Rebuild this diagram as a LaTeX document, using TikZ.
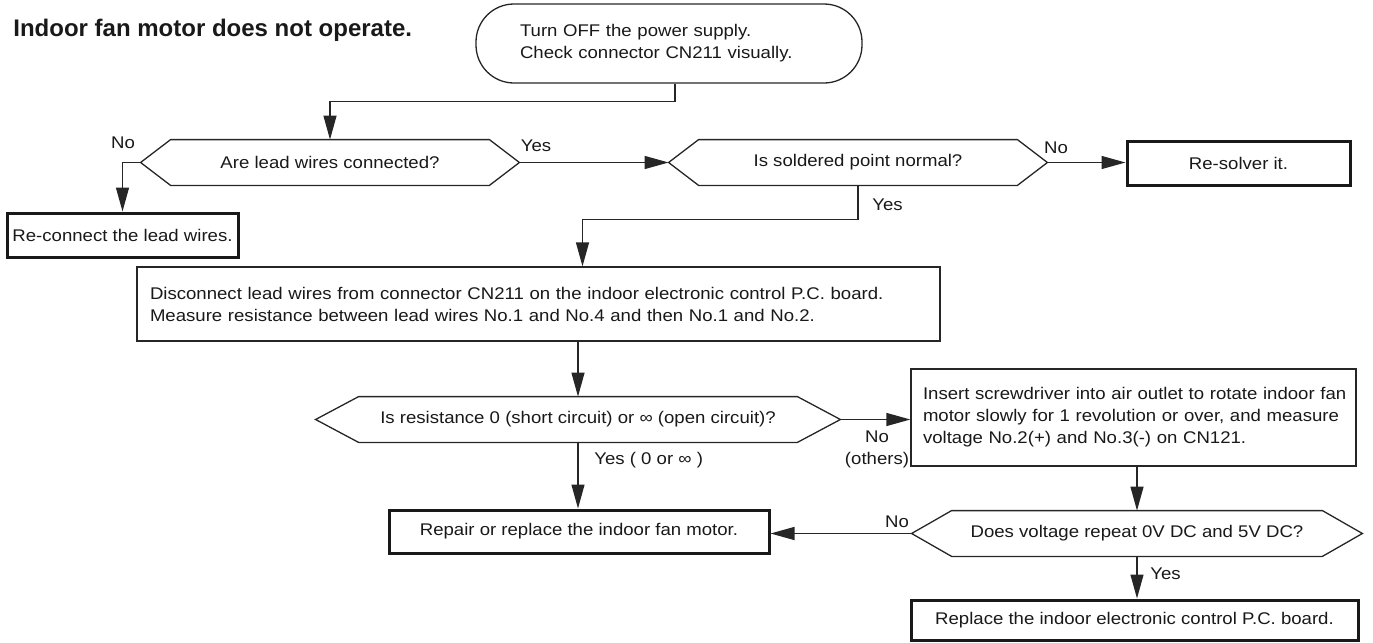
\documentclass[tikz,border=0pt]{standalone}
\usepackage{fontspec}
\setmainfont{Liberation Sans}[FakeStretch=1.1]
\newfontfamily\titlefont{Liberation Sans}
\usetikzlibrary{arrows.meta,calc}
\newcommand{\myhex}[2]{\draw[ln] (#1.west) -- ([xshift=#2]#1.north west) -- ([xshift=-#2]#1.north east) -- (#1.east) -- ([xshift=-#2]#1.south east) -- ([xshift=#2]#1.south west) -- cycle;}
\begin{document}
\begin{tikzpicture}[x=0.5pt,y=-0.5pt,
  every node/.style={font=\fontsize{8.45pt}{11pt}\selectfont, text=black!90},
  ln/.style={draw=black!85, line width=0.65pt},
  arr/.style={ln, -{Triangle[length=12pt,width=6.5pt]}},
  box/.style={ln, rectangle, inner ysep=0pt},
  bbox/.style={draw=black!90, line width=1.5pt, rectangle, inner sep=0pt},
  dec/.style={rectangle, inner sep=0pt, minimum height=22.5pt},
  lbl/.style={inner sep=0pt}
]
\useasboundingbox (0,0) rectangle (1373,643);

\node[lbl, anchor=west, font=\titlefont\bfseries\fontsize{12pt}{14pt}\selectfont] (title) at (13,30) {Indoor fan motor does not operate.};

\node[ln, rounded corners=19pt, minimum width=193pt, minimum height=39.5pt, inner xsep=22pt, inner ysep=0pt, text width=149pt, align=left] (term) at (669,43.5) {\mbox{Turn OFF the power supply.}\\\mbox{Check connector CN211 visually.}};

\node[dec, minimum width=189pt] (d1) at (330,162.5) {Are lead wires connected?};
\node[dec, minimum width=189pt] (d2) at (858,162.5) {Is soldered point normal?};
\myhex{d1}{15pt}
\myhex{d2}{15pt}

\node[bbox, minimum width=115.5pt, minimum height=22pt] (rc) at (122.5,235) {Re-connect the lead wires.};
\node[bbox, minimum width=111.5pt, minimum height=22pt] (rs) at (1238.5,163) {Re-solver it.};

\node[box, minimum width=401.5pt, minimum height=37pt, inner xsep=6.5pt, text width=388.5pt, align=left] (disc) at (538.5,304) {\mbox{Disconnect lead wires from connector CN211 on the indoor electronic control P.C. board.}\\\mbox{Measure resistance between lead wires No.1 and No.4 and then No.1 and No.2.}};

\node[dec, minimum width=262pt] (d3) at (578,419.5) {Is resistance 0 (short circuit) or ∞ (open circuit)?};
\myhex{d3}{21.5pt}

\node[box, minimum width=222.5pt, minimum height=48.5pt, inner xsep=6pt, text width=210.5pt, align=left] (ins) at (1133.5,417.5) {\mbox{Insert screwdriver into air outlet to rotate indoor fan}\\\mbox{motor slowly for 1 revolution or over, and measure}\\\mbox{voltage No.2(+) and No.3(-) on CN121.}};

\node[dec, minimum width=225pt] (d4) at (1137,533.5) {Does voltage repeat 0V DC and 5V DC?};
\myhex{d4}{20pt}

\node[bbox, minimum width=190pt, minimum height=21.5pt] (rep) at (579,531.5) {Repair or replace the indoor fan motor.};
\node[bbox, minimum width=223.5pt, minimum height=20pt] (repl) at (1134.5,620) {Replace the indoor electronic control P.C. board.};

% connectors
\draw[arr] ([xshift=3pt]term.south) -- ++(0,18) -| (d1.north);
\draw[arr] (d1.west) -| (rc.north);
\node[lbl] (no1) at (123,143) {No};
\draw[arr] (d1.east) -- (d2.west);
\node[lbl] (yes1) at (536,146) {Yes};
\draw[arr] (d2.east) -- (d2.east -| rs.west);
\node[lbl] (no2) at (1056,148) {No};
\draw[arr] (d2.south) -- ++(0,34) -| ([xshift=22pt]disc.north);
\node[lbl, anchor=west] (yes2) at (872,205) {Yes};
\draw[arr] (disc.south -| d3.north) -- (d3.north);
\draw[arr] (d3.south) -- (d3.south |- rep.north);
\node[lbl, anchor=west] (yes3) at (594,460) {Yes ( 0 or ∞ )};
\draw[arr] (d3.east) -- (d3.east -| ins.west);
\node[lbl, align=center] (no3) at (877,449.5) {No\\(others)};
\draw[arr] (ins.south -| d4.north) -- (d4.north);
\draw[arr] (d4.west) -- (d4.west -| rep.east);
\node[lbl] (no4) at (897,522) {No};
\draw[arr] (d4.south) -- (d4.south |- repl.north);
\node[lbl, anchor=west] (yes4) at (1150,574) {Yes};
\end{tikzpicture}
\end{document}
